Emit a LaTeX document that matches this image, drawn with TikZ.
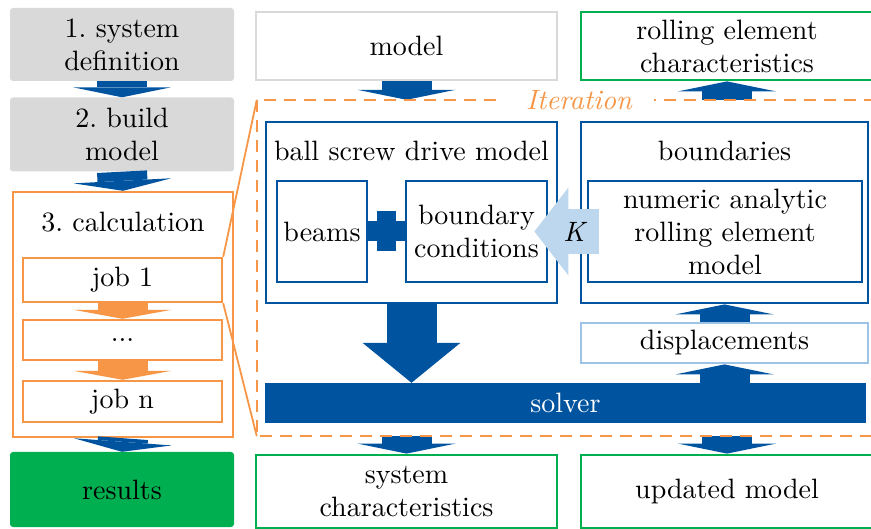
\documentclass[tikz,border=0pt]{standalone}
\usepackage{fontspec}
\setmainfont{lmroman10-regular}[Extension=.otf, ItalicFont=lmroman10-italic]
\usetikzlibrary{arrows.meta, positioning, calc}
\definecolor{RwthBlue}{RGB}{0,84,159}
\definecolor{LightBlue}{RGB}{189,215,238}
\definecolor{PaleBlue}{RGB}{157,195,230}
\definecolor{MidOrange}{RGB}{247,150,70}
\definecolor{MidGreen}{RGB}{0,176,80}
\definecolor{LightGray}{RGB}{217,217,217}

\begin{document}
\begin{tikzpicture}[
    x=1pt, y=-1pt,
    font=\fontsize{28}{33}\selectfont\frenchspacing,
    every node/.style={inner sep=0pt, align=center},
    grey/.style={fill=LightGray, rounded corners=3pt, minimum width=224pt},
    box/.style={draw=#1, line width=2.8pt, fill=white},
    jobbox/.style={draw=MidOrange, line width=2.4pt, minimum width=199pt},
    blockarr/.style={line width=50pt, RwthBlue, -{Triangle[length=#1, width=98pt, line width=0pt]}},
    blockarr/.default=10pt,
    orgarr/.style={line width=50pt, MidOrange, -{Triangle[length=9pt, width=98pt, line width=0pt]}},
    karr/.style={line width=45pt, LightBlue, -{Triangle[length=34pt, width=88pt, line width=0pt]}},
    iterline/.style={draw=MidOrange, line width=2.4pt, dash pattern=on 12pt off 8pt},
]
\useasboundingbox (0,0) rectangle (871,529);
\clip (0,0) rectangle (871,529);

% ================= left: process steps =================
\node[grey, minimum height=73pt] (sysdef) at (122,44.5) {1. system\\definition};
\node[grey, minimum height=74pt] (build) at (122,134.5) {2. build\\model};
\node[box=MidOrange, line width=2.4pt, minimum width=220pt, minimum height=245pt] (calc) at (123,314.5) {};
\node (calct) at (123,222) {3. calculation};
\node[jobbox, minimum height=44pt] (job1) at (122.5,280) {job 1};
\node[jobbox, minimum height=40pt] (jobd) at (122.5,340) {...};
\node[jobbox, minimum height=41pt] (jobn) at (122.5,401.5) {job n};
\node[fill=MidGreen, rounded corners=3pt, minimum width=224pt, minimum height=75pt] (res) at (122,489.5) {results};

\draw[blockarr] (sysdef.south) -- (build.north);
\draw[blockarr] (build.south) -- (calc.north);
\draw[orgarr] (job1.south) -- (jobd.north);
\draw[orgarr] (jobd.south) -- (jobn.north);
\draw[blockarr] (calc.south) -- (res.north);

% ================= right: iteration loop =================
\node[minimum width=623pt, minimum height=336pt] (iter) at (568.5,268) {};

\node[box=LightGray, minimum width=301pt, minimum height=68pt] (model) at (406.5,46) {model};
\node[box=MidGreen, minimum width=292pt, minimum height=68pt] (roll) at (727,46) {rolling element\\characteristics};

\node[box=RwthBlue, minimum width=291pt, minimum height=181pt] (bsm) at (411.5,212.5) {};
\node (bsmt) at ($(bsm.north)+(0,30)$) {ball screw drive model};
\node[box=RwthBlue, minimum width=90pt, minimum height=101pt] (beams) at (322,231.5) {beams};
\node[box=RwthBlue, minimum width=141pt, minimum height=101pt] (bcond) at (476.5,231.5) {boundary\\conditions};
% joint between beams and boundary conditions
\coordinate (jnt) at ($(beams.east)!0.5!(bcond.west)$);
\draw[RwthBlue, line width=20pt] (beams.east) -- (bcond.west);
\node[fill=RwthBlue, minimum width=19pt, minimum height=40pt] (jntv) at (jnt) {};

\node[box=RwthBlue, minimum width=287pt, minimum height=181pt] (bnd) at (724.5,212.5) {};
\node (bndt) at ($(bnd.north)+(0,30)$) {boundaries};
\node[box=RwthBlue, minimum width=274pt, minimum height=101pt] (nare) at (725,231.5) {numeric analytic\\rolling element\\model};
\draw[karr] ($(nare.west)+(12,0)$) -- node[pos=0.36, text=black] (klab) {\textit{K}} ($(bcond.east)+(-14,0)$);

\node[box=PaleBlue, minimum width=287pt, minimum height=40pt] (disp) at (724.5,343) {displacements};
\node[fill=RwthBlue, text=white, minimum width=601pt, minimum height=40pt] (solver) at (565.5,403) {solver};

\node[box=MidGreen, minimum width=301pt, minimum height=73pt] (sysch) at (406.5,491.5) {system\\characteristics};
\node[box=MidGreen, minimum width=292pt, minimum height=73pt] (upd) at (727,491.5) {updated model};

\draw[blockarr] (model.south) -- (model.south |- iter.north);
\draw[blockarr] (roll.south |- iter.north) -- (roll.south);
\draw[blockarr=40pt] (bsm.south) -- (bsm.south |- solver.north);
\draw[blockarr] (disp.south |- solver.north) -- (disp.south);
\draw[blockarr] (disp.north) -- (bnd.south);
\draw[blockarr] (sysch.north |- iter.south) -- (sysch.north);
\draw[blockarr] (upd.north |- iter.south) -- (upd.north);

% dashed frame and zoom lines from job 1
\draw[iterline] (iter.north west) rectangle (iter.south east);
\draw[MidOrange, line width=1.8pt] (job1.north east) -- (iter.north west);
\draw[MidOrange, line width=1.8pt] (job1.south east) -- (iter.south west);
\node[fill=white, inner xsep=22pt, inner ysep=2pt, text=MidOrange] (iterl) at (579,100) {\itshape Iteration};

\end{tikzpicture}
\end{document}
